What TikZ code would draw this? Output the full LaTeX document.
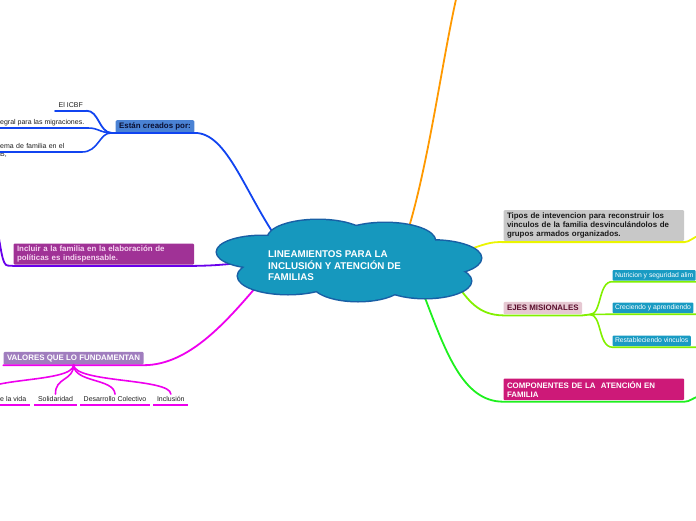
\documentclass[tikz,border=0pt]{standalone}
\usepackage{fontspec}
\setmainfont{Liberation Sans}
\definecolor{cloudfill}{RGB}{22,152,190}
\definecolor{cloudline}{RGB}{25,95,165}
\definecolor{blueline}{RGB}{17,68,240}
\definecolor{violetline}{RGB}{105,0,235}
\definecolor{magline}{RGB}{238,0,238}
\definecolor{orangeline}{RGB}{255,153,0}
\definecolor{yellowline}{RGB}{235,245,0}
\definecolor{limeline}{RGB}{130,240,0}
\definecolor{greenline}{RGB}{30,240,30}
\definecolor{creadosbox}{RGB}{74,130,212}
\definecolor{creadostext}{RGB}{10,15,50}
\definecolor{incluirbox}{RGB}{160,50,150}
\definecolor{incluirtext}{RGB}{245,212,240}
\definecolor{valoresbox}{RGB}{160,125,190}
\definecolor{tiposbox}{RGB}{200,200,200}
\definecolor{tipostext}{RGB}{25,25,25}
\definecolor{ejesbox}{RGB}{230,200,210}
\definecolor{ejestext}{RGB}{90,15,45}
\definecolor{compbox}{RGB}{205,25,120}
\definecolor{tealbox}{RGB}{25,155,195}
\definecolor{leaftext}{RGB}{30,30,30}

\begin{document}
\begin{tikzpicture}[x=1pt, y=-1pt, every node/.style={font=\fontsize{7}{8}\selectfont},
  branch/.style={line width=1.8pt, line cap=round},
  twig/.style={line width=1.6pt, line cap=round},
  topic/.style={anchor=north west, rounded corners=1.2pt, inner xsep=3.5pt, inner ysep=0pt, align=left, font=\fontsize{7.9}{9}\selectfont\bfseries},
  subtopic/.style={anchor=north west, rounded corners=1pt, inner xsep=2.5pt, inner ysep=0pt, fill=tealbox, text=white, minimum height=10.5pt, text height=5pt, text depth=1.4pt, font=\fontsize{6.8}{8}\selectfont},
  leaf/.style={inner xsep=3.5pt, inner ysep=2pt, text depth=1.5pt, text=leaftext, align=left}]
\useasboundingbox (0,0) rectangle (696,520);
\clip (0,0) rectangle (696,520);

\node[topic, fill=creadosbox, text=creadostext, minimum height=12.5pt] (creados) at (115.5,120) {Están creados por:};
\node[topic, fill=incluirbox, text=incluirtext, minimum height=21pt, text width=173.7pt] (incluir) at (13.3,243.3) {Incluir a la familia en la elaboración de\\políticas es indispensable.};
\node[topic, fill=valoresbox, text=white, minimum height=12.6pt] (valores) at (3.3,351.7) {VALORES QUE LO FUNDAMENTAN};
\node[topic, fill=tiposbox, text=tipostext, minimum height=30.7pt, text width=173.7pt] (tipos) at (503.3,210) {Tipos de intevencion para reconstruir los\\vinculos de la familia desvinculándolos de\\grupos armados organizados.};
\node[topic, fill=ejesbox, text=ejestext, minimum height=12.3pt] (ejes) at (503.3,301.7) {EJES MISIONALES};
\node[topic, fill=compbox, text=white, minimum height=21.7pt, text width=173.7pt] (componentes) at (503.3,378.3) {COMPONENTES DE LA\ \ ATENCIÓN EN\\FAMILIA};

\node[subtopic] (nutricion) at (612.3,270) {Nutricion y seguridad alim};
\node[subtopic] (creciendo) at (612.3,302.5) {Creciendo y aprendiendo};
\node[subtopic] (restableciendo) at (612.3,335.5) {Restableciendo vinculos};

\node[leaf, anchor=south west, text height=5pt] (icbf) at (55,110.7) {El ICBF};
\node[leaf, anchor=south west, text height=5pt] (migraciones) at (-3.5,128) {egral para las migraciones.};
\node[leaf, anchor=south west, text width=78pt] (sistema) at (-3.5,152) {ema de familia en el\\B,};
\node[leaf, anchor=south west, text height=5pt] (vida) at (-3.5,405) {e la vida};
\node[leaf, anchor=south west, text height=5pt] (solidaridad) at (34.3,405) {Solidaridad};
\node[leaf, anchor=south west, text height=5pt] (desarrollo) at (80,405) {Desarrollo Colectivo};
\node[leaf, anchor=south west, text height=5pt] (inclusion) at (153.3,405) {Inclusión};

\coordinate (cblue) at (282,246);
\coordinate (cviolet) at (245,262);
\coordinate (cmag) at (262,280);
\coordinate (corange) at (405,240);
\coordinate (cyellow) at (462,252);
\coordinate (clime) at (455,282);
\coordinate (cgreen) at (422,290);
\coordinate (ooff) at (457,-5);
\coordinate (voff) at (-4,222);
\coordinate (yoff) at (700,235);
\coordinate (goff) at (700,396);
\coordinate (vidatop) at (-18,394);
\coordinate (lj) at (590,314.5);

\draw[branch, blueline] (icbf.south east) .. controls (99,110.7) and (99,132.5) .. ([xshift=-4pt]creados.south west) -- (creados.south east) .. controls (228,132.5) and (245,195) .. (cblue);
\draw[twig, blueline] (icbf.south west) -- (icbf.south east);
\draw[twig, blueline] (migraciones.south west) -- (migraciones.south east) .. controls (99,128) and (99,132.5) .. ([xshift=-4pt]creados.south west);
\draw[twig, blueline] (sistema.south west) -- (sistema.south east) .. controls (99,152) and (99,132.5) .. ([xshift=-4pt]creados.south west);

\draw[branch, violetline] (cviolet) .. controls (225,265) and (210,265.6) .. ([yshift=-1.2pt]incluir.south east) -- ([yshift=-1.2pt]incluir.south west) -- (8,265.6) .. controls (2,265.6) and (1.5,250) .. (voff);

\draw[branch, magline] ([yshift=-0.5pt]valores.south west) -- ([yshift=-0.5pt]valores.south east) .. controls (190,365) and (228,320) .. (cmag);
\draw[twig, magline] (valores.south) .. controls (74,383) and (-18,377) .. (vidatop);
\draw[twig, magline] (valores.south) .. controls (74,381) and (54.8,377) .. (solidaridad.north);
\draw[twig, magline] (valores.south) .. controls (74,383) and (114,378) .. (desarrollo.north);
\draw[twig, magline] (valores.south) .. controls (74,383) and (170.6,378) .. (inclusion.north);
\draw[magline, line width=2pt] (vida.south west) -- (vida.south east);
\draw[magline, line width=2pt] (solidaridad.south west) -- (solidaridad.south east);
\draw[magline, line width=2pt] (desarrollo.south west) -- (desarrollo.south east);
\draw[magline, line width=2pt] (inclusion.south west) -- (inclusion.south east);

\draw[branch, orangeline] (corange) .. controls (428,170) and (442,60) .. (ooff);

\draw[branch, yellowline] (cyellow) .. controls (485,244) and (490,241.7) .. ([yshift=-1pt]tipos.south west) -- ([yshift=-1pt]tipos.south east) .. controls (690,241.7) and (692,238) .. (yoff);

\draw[branch, limeline] (clime) .. controls (468,300) and (478,315) .. ([yshift=-1pt]ejes.south west) -- ([yshift=-1pt]ejes.south east) -- (lj);
\draw[twig, limeline] (lj) .. controls (602,314.5) and (598,281.3) .. ([yshift=-0.8pt]nutricion.south west) -- ([yshift=-0.8pt]nutricion.south east) -- ++(10,0);
\draw[twig, limeline] (lj) -- ([yshift=-0.8pt]creciendo.south west) -- ([yshift=-0.8pt]creciendo.south east) -- ++(10,0);
\draw[twig, limeline] (lj) .. controls (602,314.5) and (598,346.8) .. ([yshift=-0.8pt]restableciendo.south west) -- ([yshift=-0.8pt]restableciendo.south east) -- ++(10,0);

\draw[branch, greenline] (cgreen) .. controls (445,350) and (462,401.7) .. ([yshift=-1.3pt]componentes.south west) -- ([yshift=-1.3pt]componentes.south east) .. controls (690,401.7) and (692,398) .. (goff);

\foreach \cx/\cy/\rx/\ry in {262/252/45/16, 318/238/50/18, 385/241/50/18, 432/258/49/17.5, 425/281/46/17, 358/284/45/17, 288/276/50/18, 350/260/100/28}
  \draw[cloudline, line width=3pt] (\cx,\cy) ellipse [x radius=\rx pt, y radius=\ry pt];
\foreach \cx/\cy/\rx/\ry in {262/252/45/16, 318/238/50/18, 385/241/50/18, 432/258/49/17.5, 425/281/46/17, 358/284/45/17, 288/276/50/18, 350/260/100/28}
  \fill[cloudfill] (\cx,\cy) ellipse [x radius=\rx pt, y radius=\ry pt];
\node[anchor=north west, inner sep=0pt, align=left, text=white, font=\fontsize{9.8}{11.8}\selectfont\bfseries] (root) at (268,250.3) {LINEAMIENTOS PARA LA\\INCLUSIÓN Y ATENCIÓN DE\\FAMILIAS};
\end{tikzpicture}
\end{document}
